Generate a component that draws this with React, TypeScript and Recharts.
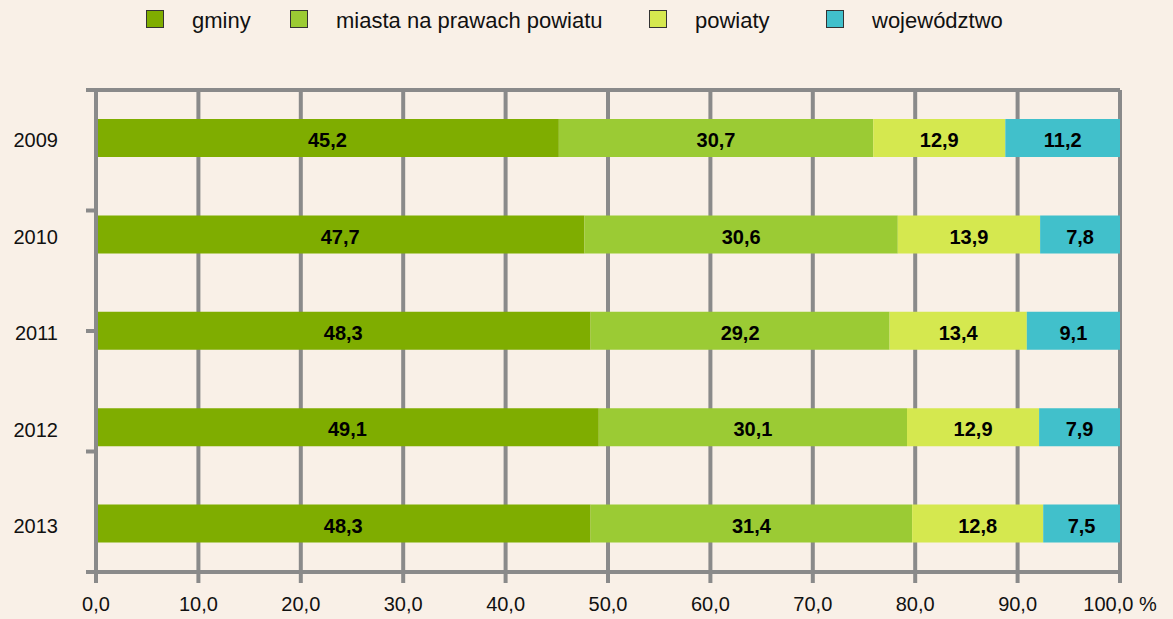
import { BarChart, Bar, XAxis, YAxis, CartesianGrid, LabelList, Legend } from "recharts";

const years = ["2009", "2010", "2011", "2012", "2013"];
const gminy = [45.2, 47.7, 48.3, 49.1, 48.3];
const miasta = [30.7, 30.6, 29.2, 30.1, 31.4];
const powiaty = [12.9, 13.9, 13.4, 12.9, 12.8];
const wojewodztwo = [11.2, 7.8, 9.1, 7.9, 7.5];
const xTicks = [0, 10, 20, 30, 40, 50, 60, 70, 80, 90, 100];
const edgeTicks = [0, 1, 2, 3, 4, 5];

const series = [
  { key: "gminy", name: "gminy", color: "#7fad00" },
  { key: "miasta", name: "miasta na prawach powiatu", color: "#9bcb34" },
  { key: "powiaty", name: "powiaty", color: "#d5e84f" },
  { key: "wojewodztwo", name: "województwo", color: "#41c0cb" },
];

const data = years.map((year, i) => ({
  year,
  gminy: gminy[i],
  miasta: miasta[i],
  powiaty: powiaty[i],
  wojewodztwo: wojewodztwo[i],
}));

const GRID = "#8a8a8a";
const BG = "#f9f0e7";
const legendLeft = [146, 290, 649, 826];

const fmt = (v: number) => v.toFixed(1).replace(".", ",");
const fmtTick = (v: number) => (v === 100 ? "100,0 %" : fmt(v));

function LegendRow() {
  return (
    <svg width={1173} height={40}>
      {series.map((s, i) => (
        <g key={s.key}>
          <rect x={legendLeft[i] + 0.5} y={10.5} width={17} height={17} fill={s.color} stroke="#333" strokeWidth={1} />
          <text x={legendLeft[i] + 46} y={28} fontSize={22} fill="#111">
            {s.name}
          </text>
        </g>
      ))}
    </svg>
  );
}

export default function App() {
  return (
    <div
      style={{
        position: "fixed",
        left: 0,
        top: 0,
        width: 1173,
        height: 619,
        background: BG,
        fontFamily: "'Liberation Sans', Arial, sans-serif",
      }}
    >
      <BarChart
        width={1173}
        height={619}
        layout="vertical"
        data={data}
        margin={{ top: 70, right: 53, bottom: 0, left: 6 }}
        barSize={38}
      >
        <CartesianGrid horizontal={false} stroke={GRID} strokeWidth={4} />
        <XAxis
          xAxisId="top"
          orientation="top"
          type="number"
          domain={[0, 100]}
          ticks={xTicks}
          height={20}
          tickSize={13}
          tickFormatter={() => ""}
          axisLine={{ stroke: GRID, strokeWidth: 4 }}
          tickLine={{ stroke: GRID, strokeWidth: 4 }}
        />
        <XAxis
          type="number"
          domain={[0, 100]}
          ticks={xTicks}
          height={47}
          tickSize={11}
          tickMargin={14}
          tickFormatter={fmtTick}
          tick={{ fill: "#111", fontSize: 20 }}
          axisLine={{ stroke: GRID, strokeWidth: 4 }}
          tickLine={{ stroke: GRID, strokeWidth: 4 }}
        />
        <YAxis
          yAxisId={0}
          type="number"
          domain={[0, 5]}
          ticks={edgeTicks}
          width={1}
          tickSize={10}
          tickFormatter={() => ""}
          axisLine={{ stroke: GRID, strokeWidth: 4 }}
          tickLine={{ stroke: GRID, strokeWidth: 4 }}
        />
        <YAxis
          yAxisId="cat"
          dataKey="year"
          type="category"
          width={89}
          tickLine={false}
          axisLine={false}
          tickSize={0}
          tickMargin={37}
          tick={{ fill: "#111", fontSize: 20, dy: 2 }}
        />
        <Legend
          verticalAlign="middle"
          align="center"
          layout="horizontal"
          wrapperStyle={{ top: 0, left: 0, width: 1173, height: 40 }}
          content={() => <LegendRow />}
        />
        {series.map((s) => (
          <Bar
            key={s.key}
            yAxisId="cat"
            dataKey={s.key}
            name={s.name}
            stackId="a"
            fill={s.color}
            isAnimationActive={false}
          >
            <LabelList
              dataKey={s.key}
              position="center"
              formatter={(v: any) => fmt(Number(v))}
              fill="#000"
              fontSize={20}
              fontWeight="bold"
              dy={2}
            />
          </Bar>
        ))}
      </BarChart>
    </div>
  );
}
